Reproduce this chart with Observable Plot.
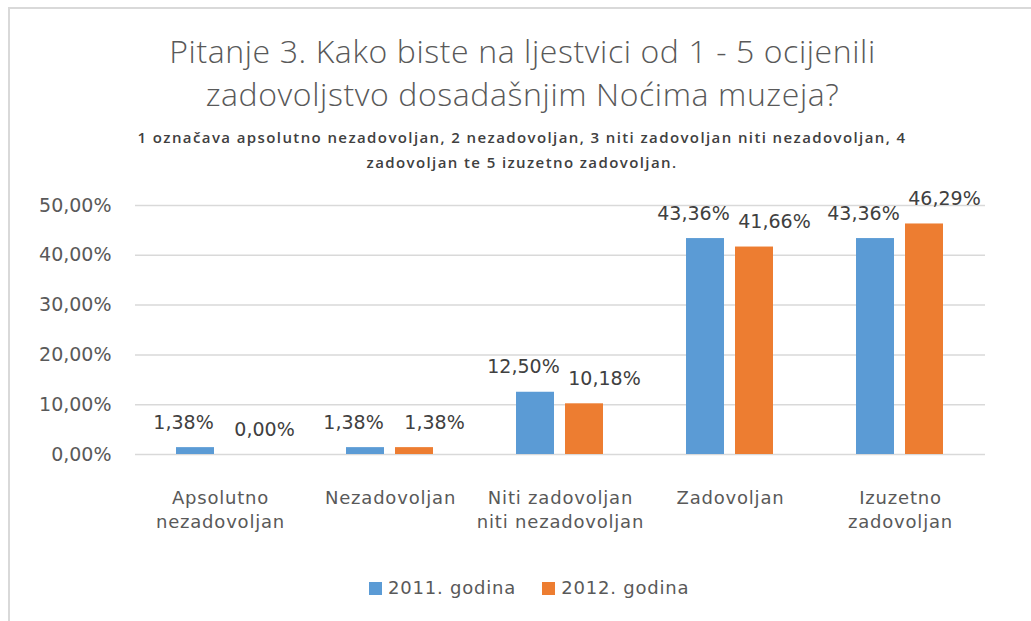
<!DOCTYPE html>
<html>
<head>
<meta charset="utf-8">
<script src="https://cdn.jsdelivr.net/npm/d3@7"></script>
<script src="https://cdn.jsdelivr.net/npm/@observablehq/plot@0.6"></script>
<style>
  html, body { margin: 0; padding: 0; background: #fff; }
  body { width: 1031px; height: 621px; position: relative; overflow: hidden; }
  #frame { position: absolute; left: 8px; top: 7px; width: 1100px; height: 700px;
           border-left: 2px solid #d9d9d9; border-top: 2px solid #d9d9d9; }
  #title { position: absolute; left: 0; top: 29px; width: 1045px; text-align: center;
           font-family: "Open Sans", sans-serif; font-weight: 300; font-size: 32px; line-height: 43px; color: #595959; letter-spacing: 0.6px; }
  #subtitle { position: absolute; left: 0; top: 125px; width: 1044px; text-align: center;
           font-family: "Open Sans", sans-serif; font-weight: 600; font-size: 15px; line-height: 25px; color: #404040; letter-spacing: 1.4px; }
  #chart { position: absolute; left: 0; top: 180px; }
  #legend { position: absolute; left: 369px; top: 578px; display: flex; align-items: center;
            font-family: "DejaVu Sans", sans-serif; font-size: 18px; line-height: 20px; color: #595959; letter-spacing: 0.8px; }
  #legend .sw { width: 13px; height: 13px; margin-right: 6px; }
  #legend .item { display: flex; align-items: center; margin-right: 26px; }
  #chart svg g[aria-label="fx-axis tick label"] text { letter-spacing: 0.8px; }
</style>
</head>
<body>
<div id="frame"></div>
<div id="title">Pitanje 3. Kako biste na ljestvici od 1 - 5 ocijenili<br>zadovoljstvo dosadašnjim Noćima muzeja?</div>
<div id="subtitle">1 označava apsolutno nezadovoljan, 2 nezadovoljan, 3 niti zadovoljan niti nezadovoljan, 4<br>zadovoljan te 5 izuzetno zadovoljan.</div>
<div id="chart"></div>
<div id="legend"></div>
<script>
const categories = ["Apsolutno\nnezadovoljan", "Nezadovoljan", "Niti zadovoljan\nniti nezadovoljan", "Zadovoljan", "Izuzetno\nzadovoljan"];
const years = ["2011. godina", "2012. godina"];
const values2011 = [1.38, 1.38, 12.50, 43.36, 43.36];
const values2012 = [0.00, 1.38, 10.18, 41.66, 46.29];
const yTicks = [0, 10, 20, 30, 40, 50];
const colors = ["#5B9BD5", "#ED7D31"];

const fmt = v => v.toFixed(2).replace(".", ",") + "%";

const data = categories.flatMap((c, i) => [
  {category: c, year: years[0], value: values2011[i]},
  {category: c, year: years[1], value: values2012[i]}
]);

const chart = Plot.plot({
  width: 1031,
  height: 364,
  marginTop: 25,
  marginBottom: 90,
  marginLeft: 134,
  marginRight: 46,
  style: {fontFamily: "DejaVu Sans, sans-serif", background: "transparent"},
  fx: {domain: categories, padding: 0, label: null},
  x: {domain: years, paddingInner: 0.224, paddingOuter: 0.843, axis: null},
  y: {domain: [0, 50], label: null},
  color: {domain: years, range: colors},
  marks: [
    Plot.gridY(yTicks, {stroke: "#d9d9d9", strokeOpacity: 1, strokeWidth: 1.5}),
    Plot.axisY(yTicks, {tickSize: 0, tickPadding: 24, tickFormat: fmt, fontSize: 19, fill: "#595959", label: null}),
    Plot.axisFx({anchor: "bottom", tickSize: 0, tickPadding: 32, fontSize: 18, fill: "#595959", lineHeight: 1.35, label: null}),
    Plot.barY(data, {fx: "category", x: "year", y: "value", fill: "year"}),
    Plot.text(data.filter(d => d.year === years[0]), {fx: "category", x: "year", y: "value", text: d => fmt(d.value),
      lineAnchor: "bottom", dy: -19, dx: -12, fontSize: 19, fill: "#404040"}),
    Plot.text(data.filter(d => d.year === years[1]), {fx: "category", x: "year", y: "value", text: d => fmt(d.value),
      lineAnchor: "bottom", dy: -19, dx: 20, fontSize: 19, fill: "#404040"})
  ]
});
document.getElementById("chart").appendChild(chart);

const legend = document.getElementById("legend");
years.forEach((y, i) => {
  const item = document.createElement("div");
  item.className = "item";
  const sw = document.createElement("div");
  sw.className = "sw";
  sw.style.background = colors[i];
  const t = document.createElement("span");
  t.textContent = y;
  item.appendChild(sw);
  item.appendChild(t);
  legend.appendChild(item);
});
</script>
</body>
</html>
